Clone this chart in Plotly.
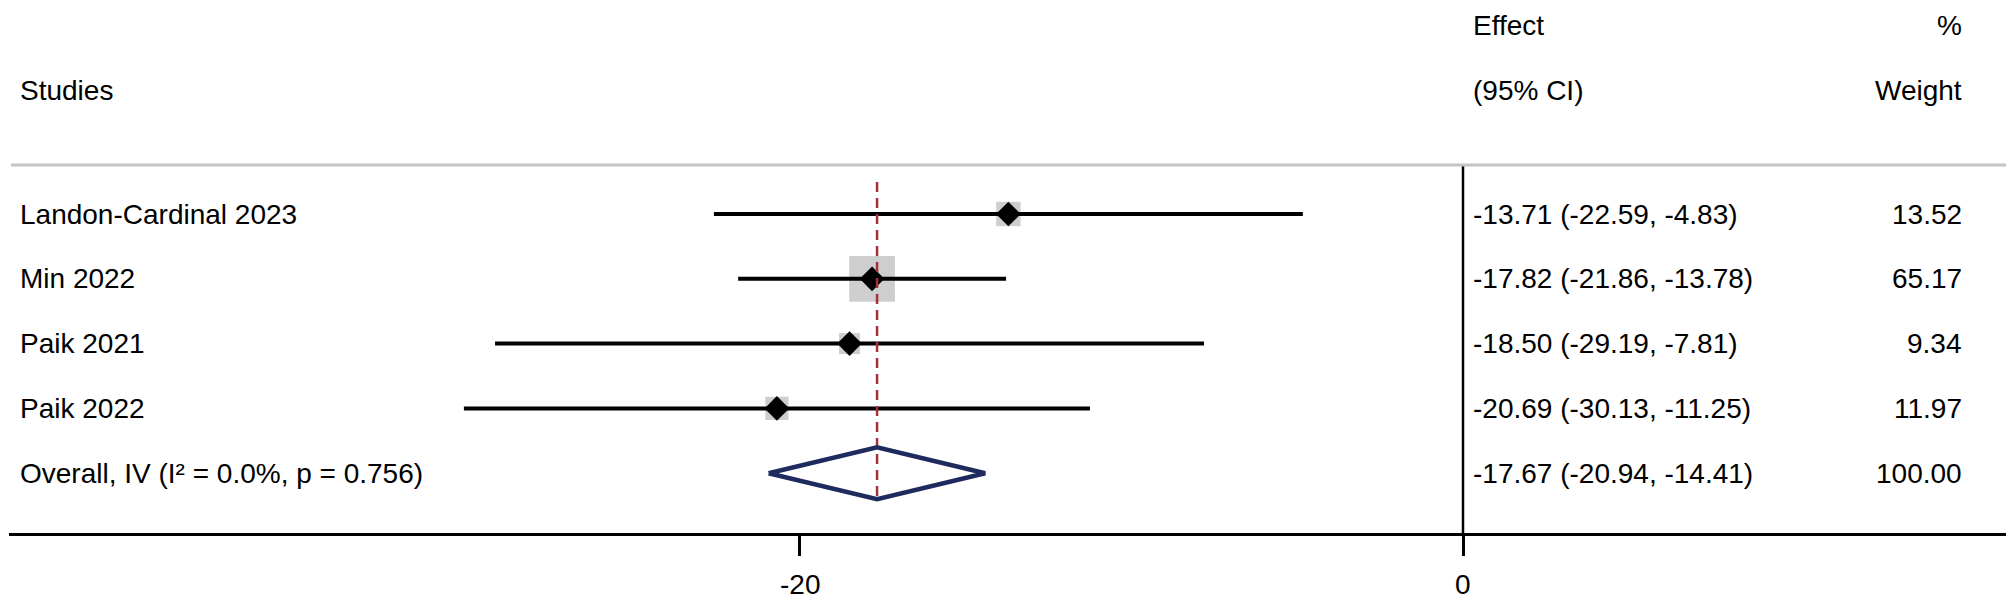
import plotly.graph_objects as go
import numpy as np

# ---------------- data ----------------
studies = ["Landon-Cardinal 2023", "Min 2022", "Paik 2021", "Paik 2022"]
effects = [-13.71, -17.82, -18.50, -20.69]
ci_low = [-22.59, -21.86, -29.19, -30.13]
ci_high = [-4.83, -13.78, -7.81, -11.25]
weights = [13.52, 65.17, 9.34, 11.97]

overall_label = "Overall, IV (I² = 0.0%, p = 0.756)"
overall_effect = -17.67
overall_low = -20.94
overall_high = -14.41
overall_weight = 100.00

tick_vals = [-20, 0]
tick_text = ["-20", "0"]

# ---------------- layout geometry ----------------
W, H = 2014, 599
ML, MR, MT, MB = 1, 7, 0, 74
PW, PH = W - ML - MR, H - MT - MB
PX_PER_UNIT = 33.16
ZERO_PX = 1455
X0 = -(ZERO_PX - ML) / PX_PER_UNIT
X1 = X0 + PW / PX_PER_UNIT
ROW0_PX, ROW_STEP = 206, 64.8
Y_TOP = -ROW0_PX / ROW_STEP
Y_BOT = (PH - ROW0_PX) / ROW_STEP

GRAY_PY = 157
LEFT_PX = 10
EFF_PX = ZERO_PX + 8
WT_PX = 1956


def px2x(px):
    return X0 + (px - ML) / PX_PER_UNIT


def py2y(py):
    return (py - ROW0_PX) / ROW_STEP


def py2paper(py):
    return (PH - (py - MT)) / PH


FONT = "Liberation Sans, Arial, Helvetica, sans-serif"
FS = 28

n = len(studies)
rows = list(range(n))
overall_row = n
h = 0.40  # half height of overall diamond (row units)

fig = go.Figure()

# CI lines
xs, ys = [], []
for i in rows:
    xs += [ci_low[i], ci_high[i], None]
    ys += [i, i, None]

# weight boxes
box_sizes = [8.6 * (w ** 0.4) for w in weights]
fig.add_trace(go.Scatter(x=effects, y=rows, mode="markers",
                         marker=dict(symbol="square", size=box_sizes, color="#b9b9b9",
                                     line=dict(width=0)), hoverinfo="skip"))

fig.add_trace(go.Scatter(x=xs, y=ys, mode="lines",
                         line=dict(color="black", width=4), hoverinfo="skip"))

# point estimates
fig.add_trace(go.Scatter(x=effects, y=rows, mode="markers",
                         marker=dict(symbol="diamond", size=19, color="black"),
                         hoverinfo="skip"))

# overall dashed line
fig.add_trace(go.Scatter(x=[overall_effect, overall_effect],
                         y=[py2y(GRAY_PY + 17), overall_row + h],
                         mode="lines", line=dict(color="#a3333a", width=2.5, dash="10px,6px"),
                         hoverinfo="skip"))

# overall diamond
fig.add_trace(go.Scatter(
    x=[overall_low, overall_effect, overall_high, overall_effect, overall_low],
    y=[overall_row, overall_row - h, overall_row, overall_row + h, overall_row],
    mode="lines", line=dict(color="#1f2b5e", width=4.5), hoverinfo="skip"))

# zero line
fig.add_shape(type="line", xref="x", yref="y", x0=0, x1=0, y0=py2y(GRAY_PY), y1=Y_BOT,
              line=dict(color="black", width=2.5))
# header separator
fig.add_shape(type="line", xref="x", yref="y", x0=px2x(3), x1=px2x(2007),
              y0=py2y(GRAY_PY), y1=py2y(GRAY_PY), line=dict(color="#c4c4c4", width=3))


def txt(x, py, s, anchor="left", yanchor="middle"):
    fig.add_annotation(x=x, y=py2paper(py), text=s, showarrow=False,
                       xref="x", yref="paper", xanchor=anchor, yanchor=yanchor,
                       font=dict(family=FONT, size=FS, color="black"))


txt(px2x(LEFT_PX), 82, "Studies")
txt(px2x(EFF_PX), 0, "Effect", yanchor="top")
txt(px2x(EFF_PX), 82, "(95% CI)")
txt(px2x(WT_PX), 0, "%", "right", yanchor="top")
txt(px2x(WT_PX), 82, "Weight", "right")

for i in rows:
    py = ROW0_PX + ROW_STEP * i
    txt(px2x(LEFT_PX), py, studies[i])
    txt(px2x(EFF_PX), py, f"{effects[i]:.2f} ({ci_low[i]:.2f}, {ci_high[i]:.2f})")
    txt(px2x(WT_PX), py, f"{weights[i]:.2f}", "right")

py = ROW0_PX + ROW_STEP * overall_row
txt(px2x(LEFT_PX), py, overall_label)
txt(px2x(EFF_PX), py, f"{overall_effect:.2f} ({overall_low:.2f}, {overall_high:.2f})")
txt(px2x(WT_PX), py, f"{overall_weight:.2f}", "right")

# tick labels
for v, t in zip(tick_vals, tick_text):
    txt(v, 576, t, "center")

fig.update_layout(
    width=W, height=H, margin=dict(l=ML, r=MR, t=MT, b=MB),
    paper_bgcolor="white", plot_bgcolor="white", showlegend=False,
    font=dict(family=FONT, size=FS, color="black"),
    xaxis=dict(range=[X0, X1], showgrid=False, zeroline=False, showline=True,
               linecolor="black", linewidth=2.5, ticks="outside", ticklen=20,
               tickwidth=2.5, tickcolor="black", tickvals=tick_vals,
               showticklabels=False, fixedrange=True),
    yaxis=dict(range=[Y_BOT, Y_TOP], visible=False, fixedrange=True),
)

fig.write_html("out.html")
